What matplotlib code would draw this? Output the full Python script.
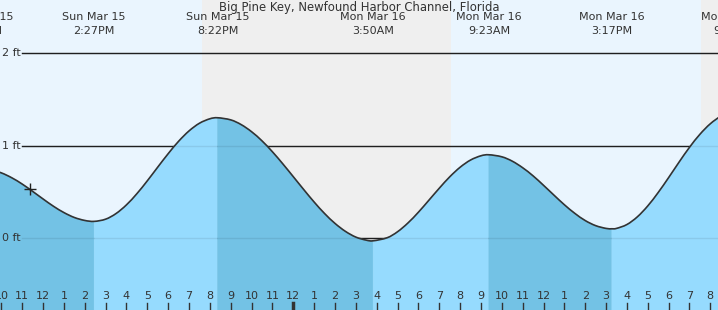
import matplotlib.pyplot as plt
import numpy as np
from matplotlib.path import Path
from matplotlib.patches import PathPatch

# hours since Sun Mar 15 00:00
tide_times = [9.5, 10.0, 10.5, 11.0, 11.5, 12.0, 12.5, 13.0, 13.5, 14.0,
              14.5, 15.0, 15.5, 16.0, 16.5, 17.0, 17.5, 18.0, 18.5, 19.0, 19.5, 20.0,
              20.5, 21.0, 21.5, 22.0, 22.5, 23.0, 23.5, 24.0, 24.5, 25.0, 25.5, 26.0,
              26.5, 27.0, 27.5, 28.0, 28.5, 29.0, 29.5, 30.0, 30.5, 31.0, 31.5, 32.0,
              32.5, 33.0, 33.5, 34.0, 34.5, 35.0, 35.5, 36.0, 36.5, 37.0, 37.5, 38.0,
              38.5, 39.0, 39.5, 40.0, 40.5, 41.0, 41.5, 42.0, 42.5, 43.0, 43.5, 44.0, 44.5]
tide_heights = [0.736, 0.704, 0.651, 0.583, 0.504, 0.422, 0.343, 0.275, 0.222, 0.190,
                0.180, 0.204, 0.265, 0.359, 0.480, 0.619, 0.767, 0.912, 1.046, 1.158, 1.241, 1.289,
                1.299, 1.277, 1.226, 1.149, 1.050, 0.932, 0.801, 0.663, 0.524, 0.389, 0.265, 0.158,
                0.072, 0.010, -0.023, -0.028, 0.003, 0.068, 0.163, 0.279, 0.408, 0.538, 0.661, 0.765,
                0.843, 0.889, 0.899, 0.878, 0.831, 0.760, 0.672, 0.570, 0.464, 0.360, 0.267, 0.189,
                0.134, 0.104, 0.104, 0.146, 0.229, 0.347, 0.492, 0.653, 0.820, 0.980, 1.121, 1.235, 1.313]

ext_times = [9.05, 14.45, 20.37, 27.83, 33.38, 39.28, 45.12]
ext_heights = [0.746, 0.18, 1.30, -0.03, 0.90, 0.10, 1.35]
ext_dates = ["Sun Mar 15", "Sun Mar 15", "Sun Mar 15", "Mon Mar 16",
             "Mon Mar 16", "Mon Mar 16", "Mon Mar 16"]
ext_labels = ["9:03AM", "2:27PM", "8:22PM", "3:50AM", "9:23AM", "3:17PM", "9:07PM"]

night = [(19.62, 31.57), (43.54, 48.0)]
now_time, now_height = 11.38, 0.53
hour_ticks = list(range(10, 45))
ft_levels = [0, 1, 2]

titulo = "Big Pine Key, Newfound Harbor Channel, Florida"
txt = '#333333'


def tramo(t, h, i0, i1):
    # curva suave (bezier) por los puntos i0..i1
    verts = [(t[i0], h[i0])]
    codes = [Path.MOVETO]
    n = len(t)
    for i in range(i0, i1):
        p0 = max(i - 1, 0)
        p3 = min(i + 2, n - 1)
        c1 = (t[i] + (t[i + 1] - t[p0]) / 6, h[i] + (h[i + 1] - h[p0]) / 6)
        c2 = (t[i + 1] - (t[p3] - t[i]) / 6, h[i + 1] - (h[p3] - h[i]) / 6)
        verts += [c1, c2, (t[i + 1], h[i + 1])]
        codes += [Path.CURVE4] * 3
    return verts, codes


fig = plt.figure(figsize=(7.18, 3.10), dpi=100)
ax = fig.add_axes([0, 0, 1, 1])
ax.set_xlim(9.933, 44.369)
ax.set_ylim(-0.778, 2.573)
ax.axis('off')
ax.add_patch(plt.Rectangle((0, 0), 1, 1, transform=ax.transAxes, color='#eaf5fe', zorder=0))
for a, b in night:
    ax.axvspan(a, b, color='#efefef', zorder=0.5, lw=0)

lejos = [min(abs(x - e) for e in ext_times) > 0.2 for x in tide_times]
t = np.concatenate([np.array(tide_times)[lejos], ext_times])
h = np.concatenate([np.array(tide_heights)[lejos], ext_heights])
orden = np.argsort(t)
t, h = t[orden], h[orden]

for lv in ft_levels:
    ax.axhline(lv, xmin=0.0306, xmax=1, color='#222222', lw=1, zorder=1)
    ax.text(0.003, lv, "%d ft" % lv, transform=ax.get_yaxis_transform(),
            ha='left', va='center', fontsize=8, color=txt)

for i in range(len(ext_times) - 1):
    a, b = ext_times[i], ext_times[i + 1]
    col = '#73c2e5' if ext_heights[i + 1] < ext_heights[i] else '#96dbfe'
    i0 = int(np.argmin(abs(t - a)))
    i1 = int(np.argmin(abs(t - b)))
    v, c = tramo(t, h, i0, i1)
    v += [(b, -1), (a, -1), (a, h[i0])]
    c += [Path.LINETO, Path.LINETO, Path.CLOSEPOLY]
    ax.add_patch(PathPatch(Path(v, c), facecolor=col, edgecolor=col, lw=0.4, zorder=2))

for lv in ft_levels:
    ax.axhline(lv, xmin=0.0306, xmax=1, color='#000000', alpha=0.08, lw=1, zorder=3)

v, c = tramo(t, h, 0, len(t) - 1)
ax.add_patch(PathPatch(Path(v, c), facecolor='none', edgecolor='#333333', lw=1.2, zorder=4))
ax.plot([now_time], [now_height], marker='+', ms=9, mew=1, color='#222222', zorder=5)

tr = ax.get_xaxis_transform()
for hr in hour_ticks:
    lab = hr % 12
    if lab == 0:
        lab = 12
    w = 2.5 if hr % 24 == 0 else 1
    ax.plot([hr, hr], [0, 0.022], transform=tr, color='#333333', lw=w, zorder=6, clip_on=False)
    ax.text(hr, 0.045, str(lab), transform=tr, ha='center', va='center', fontsize=8, color=txt)

for i in range(len(ext_times)):
    ax.text(ext_times[i], 1 - 17 / 310, ext_dates[i], transform=tr, ha='center', va='center',
            fontsize=8, color=txt)
    ax.text(ext_times[i], 1 - 31 / 310, ext_labels[i], transform=tr, ha='center', va='center',
            fontsize=8, color=txt)

ax.text(0.5, 1 - 7 / 310, titulo, transform=ax.transAxes, ha='center', va='center',
        fontsize=8.4, color=txt)

fig.savefig('out.png', dpi=100)
